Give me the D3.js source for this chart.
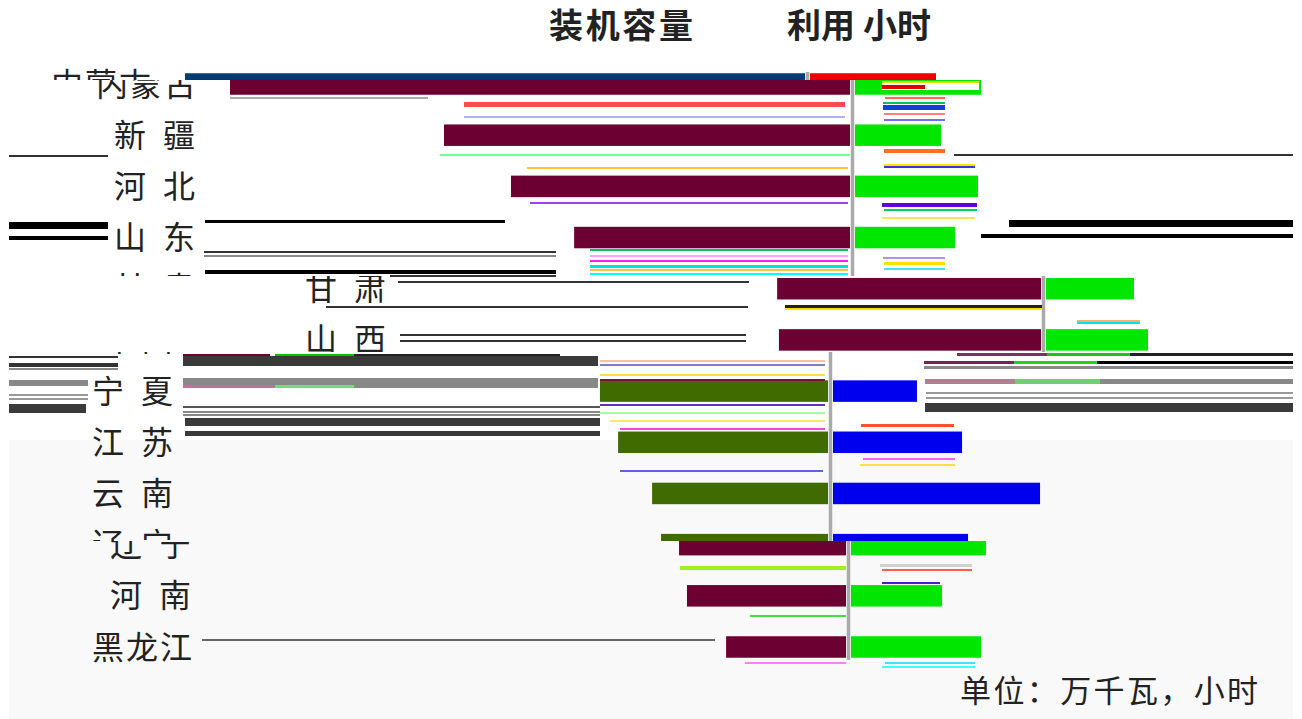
<!DOCTYPE html>
<html lang="zh">
<head>
<meta charset="utf-8">
<script src="https://cdn.jsdelivr.net/npm/d3@7/dist/d3.min.js"></script>
<style>
html,body{margin:0;padding:0;background:#fff;}
svg{display:block;font-family:"Noto Sans CJK SC","Noto Sans",sans-serif;}
</style>
</head>
<body>
<div id="chart"></div>
<script>
// ---- Data ----
const provinces = ["内蒙古","新 疆","河 北","山 东","甘 肃","山 西","宁 夏","江 苏","云 南","辽 宁","河 南","黑龙江"];
const capacity  = [2425,1588,1326,1079,1032,1025,892,821,688,653,622,469];
const hours     = [1575,1075,1538,1250,1100,1275,1050,1613,2588,1688,1138,1625];
const titleLeft = "装机容量";
const titleRight = "利用 小时";
const unitNote = "单位：万千瓦，小时";

// ---- Layout: the reference is torn into horizontal bands, each slid sideways and recoloured ----
const W = 1302, H = 719;
const tornBands = [
  {y0:60,  y1:80,  dx:-45, left:"#003c72", right:"#ee0000"},
  {y0:80,  y1:276, dx:0,   left:"#6d0033", right:"#00e600"},
  {y0:276, y1:352, dx:191, left:"#6d0033", right:"#00e600"},
  {y0:352, y1:541, dx:-22, left:"#3f6b00", right:"#0000ee"},
  {y0:541, y1:670, dx:-4,  left:"#6d0033", right:"#00e600"}
];
// Streaks and slivers of the torn reference: [x1, x2, y, height, colour]; no data in these.
const streaks = [
  [9,108,155,2,"#333"],[954,1293,154,2,"#333"],
  [9,108,222,7,"#000"],[9,108,236,4,"#000"],[1009,1293,220,7,"#000"],[981,1293,234,4,"#000"],
  [205,505,220,3,"#000"],[204,556,251,2,"#333"],[204,556,255,2,"#888"],[205,556,270,4,"#000"],[390,556,275,2,"#333"],
  [398,749,281,2,"#333"],[326,748,306,2,"#333"],[400,746,334,2,"#333"],[400,746,340,2,"#333"],
  [9,118,356,2,"#333"],[9,118,363,4,"#333"],[9,118,368,2,"#888"],
  [183,598,356,10,"#3a3a3a"],[183,270,354,2,"#6d0033"],[275,354,354,2,"#00c000"],[354,560,354,2,"#222"],
  [183,598,378,10,"#888"],[183,275,385,3,"#c07090"],[275,354,385,3,"#70e070"],
  [9,88,380,6,"#888"],[9,88,394,2,"#999"],[9,88,398,2,"#999"],[9,86,404,9,"#3a3a3a"],
  [183,600,406,2,"#555"],[183,600,411,2,"#888"],[183,600,414,2,"#888"],[185,600,418,8,"#3a3a3a"],[185,600,431,5,"#3a3a3a"],
  [957,1047,353,3,"#803060"],[1047,1130,353,3,"#20c020"],[1130,1293,353,3,"#222"],
  [924,1014,361,3,"#802050"],[1014,1097,361,3,"#20d020"],[1097,1293,361,3,"#000"],[924,1293,366,3,"#888"],
  [925,1015,379,5,"#b08090"],[1015,1100,379,5,"#70d070"],[1100,1293,379,5,"#888"],
  [926,1293,392,2,"#999"],[926,1293,397,2,"#999"],[925,1293,403,9,"#3a3a3a"],
  [202,715,639,2,"#666"],
  [230,428,97,2,"#aaa"],[464,845,102,5,"#ff4d4d"],[464,845,116,2,"#b0b0ff"],
  [885,945,97,2,"#ff6a50"],[883,945,102,2,"#00c060"],[883,945,105,5,"#1040e0"],[884,945,113,2,"#ff8080"],[884,945,119,2,"#7070f0"],
  [882,979,83,7,"#ffffff"],[882,925,85,4,"#e00000"],[882,979,81,2,"#e0e000"],
  [440,850,154,2,"#70ff90"],[884,945,149,4,"#ff7020"],[527,848,167,2,"#ffc040"],[884,975,164,2,"#ffe000"],[884,975,166,2,"#4030e0"],
  [530,848,202,2,"#a040f0"],[882,977,203,4,"#6000e0"],[884,977,209,2,"#00d060"],[882,975,217,2,"#ffe060"],
  [590,848,249,2,"#00c060"],[590,848,255,2,"#ffa0ff"],[590,848,260,2,"#ff20e0"],[590,848,265,3,"#00e0d0"],[590,848,269,2,"#ffc040"],[590,848,273,2,"#00ffff"],
  [883,945,257,2,"#b090f0"],[884,945,262,3,"#ffe000"],[884,945,268,2,"#40e0ff"],
  [785,1042,305,3,"#222"],[785,1042,308,2,"#ffe000"],[1077,1140,320,2,"#ffb060"],[1077,1140,322,2,"#00e0f0"],
  [600,825,360,2,"#ffc0a0"],[600,825,364,2,"#8080c0"],[600,825,374,2,"#ffe040"],[600,825,379,2,"#7a1040"],
  [600,825,404,2,"#6030c0"],[600,825,412,2,"#a0ffa0"],[610,825,420,2,"#ffe860"],[620,825,428,2,"#ff40e0"],
  [861,954,424,3,"#ff5030"],[863,955,458,2,"#ff60f0"],[860,955,464,2,"#ffe040"],[620,823,470,2,"#6060f0"],
  [680,846,566,4,"#a0f020"],[880,972,564,3,"#d0d0d0"],[882,972,569,2,"#ff6040"],[882,940,582,2,"#4020d0"],
  [750,846,615,2,"#40e040"],[745,846,662,2,"#ff80f0"],[885,975,662,2,"#40e0ff"],[882,975,666,2,"#40ffff"]
];

const svg = d3.select("#chart").append("svg").attr("width",W).attr("height",H);
svg.append("rect").attr("x",9).attr("y",440).attr("width",1284).attr("height",279).attr("fill","#f9f9f9");

const y = d3.scalePoint().domain(provinces).range([84,647]);
const xCap = d3.scaleLinear().domain([0,2425]).range([850,230]);
const xHrs = d3.scaleLinear().domain([0,2600]).range([855,1063]);
const barH = 21.5, axisX = 852.5, labelH = 40;
const spaced = d => d.includes(" ");

const defs = svg.append("defs");
tornBands.forEach((b,i)=>{
  defs.append("clipPath").attr("id","band"+i).append("rect")
    .attr("x",0).attr("y",b.y0).attr("width",W).attr("height",b.y1-b.y0);
  const g = svg.append("g").attr("clip-path",`url(#band${i})`)
    .append("g").attr("transform",`translate(${b.dx},0)`);
  g.selectAll("rect.cap").data(capacity).join("rect").attr("class","cap")
    .attr("x",d=>xCap(d)).attr("y",(d,j)=>y(provinces[j])-barH/2)
    .attr("width",d=>xCap(0)-xCap(d)).attr("height",barH).attr("fill",b.left);
  g.selectAll("rect.hrs").data(hours).join("rect").attr("class","hrs")
    .attr("x",xHrs(0)).attr("y",(d,j)=>y(provinces[j])-barH/2)
    .attr("width",d=>xHrs(d)-xHrs(0)).attr("height",barH).attr("fill",b.right);
  g.append("line").attr("x1",axisX).attr("x2",axisX).attr("y1",72).attr("y2",660)
    .attr("stroke","#aaaaaa").attr("stroke-width",3.5);
  // Only the labels whose row reaches into this band
  const visible = provinces.filter(p=>y(p)+labelH/2>b.y0 && y(p)-labelH/2<b.y1);
  g.selectAll("text").data(visible).join("text")
    .attr("x",d=>spaced(d)?114:96).attr("y",d=>y(d)).attr("dy","0.36em")
    .attr("textLength",d=>spaced(d)?81:100).attr("lengthAdjust","spacing")
    .attr("font-size",32).attr("fill","#222").text(d=>d);
});

svg.append("g").selectAll("rect").data(streaks).join("rect")
  .attr("x",d=>d[0]).attr("y",d=>d[2]).attr("width",d=>d[1]-d[0]).attr("height",d=>d[3]).attr("fill",d=>d[4]);

svg.append("text").attr("x",549).attr("y",38).attr("textLength",144).attr("lengthAdjust","spacing")
  .attr("font-size",34).attr("font-weight",700).attr("fill","#222").text(titleLeft);
svg.append("text").attr("x",787).attr("y",38).attr("textLength",144).attr("lengthAdjust","spacing")
  .attr("font-size",34).attr("font-weight",700).attr("fill","#222").text(titleRight);
svg.append("text").attr("x",960).attr("y",702).attr("textLength",298).attr("lengthAdjust","spacing")
  .attr("font-size",31).attr("fill","#222").text(unitNote);
</script>
</body>
</html>
